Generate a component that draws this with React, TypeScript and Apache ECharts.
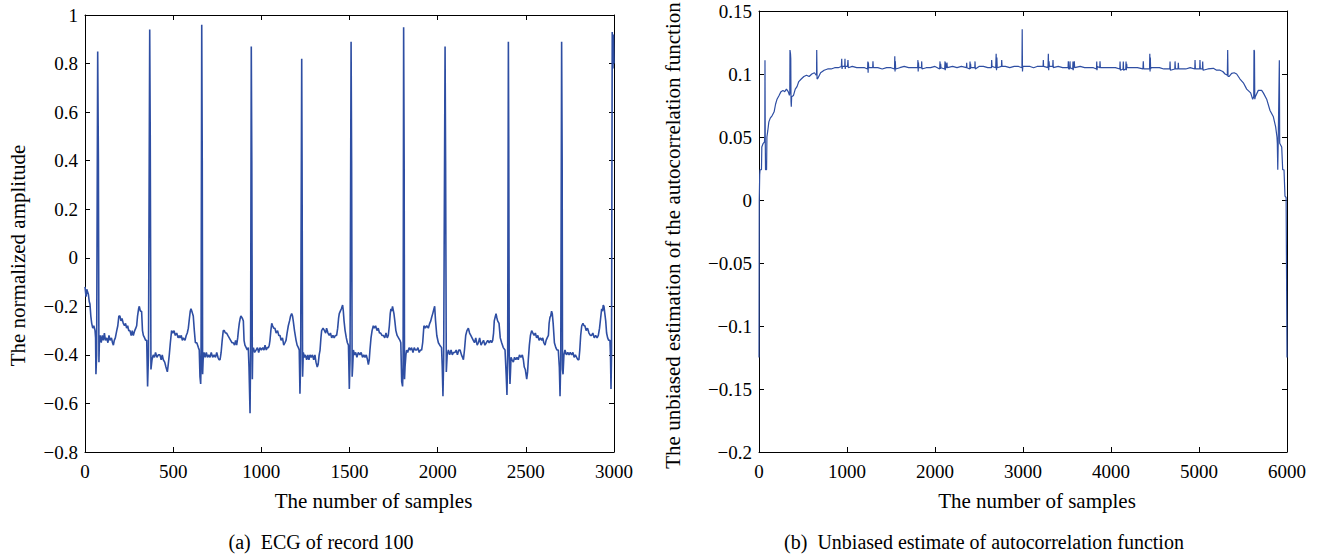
import React, { useEffect, useRef } from "react";
import * as echarts from "echarts";

// ECG of record 100: [sample, normalized amplitude]
const ecgPoints: number[][] = [
  [0,-0.12],[6,-0.16],[10,-0.13],[19,-0.15],[24,-0.18],[28,-0.19],[33,-0.24],[38,-0.27],[44,-0.29],[50,-0.28],[57,-0.30],[60,-0.33],[62,-0.48],[66,-0.40],[72,0.85],[76,0.40],[79,-0.43],[82,-0.33],[86,-0.32],[92,-0.35],[98,-0.32],[104,-0.34],[110,-0.31],[116,-0.34],[123,-0.33],[130,-0.35],[136,-0.32],[142,-0.34],[150,-0.33],[156,-0.35],[161,-0.36],[166,-0.34],[172,-0.33],[180,-0.30],[186,-0.28],[192,-0.24],[198,-0.24],[204,-0.26],[210,-0.25],[217,-0.27],[224,-0.28],[230,-0.27],[236,-0.29],[242,-0.28],[248,-0.30],[255,-0.30],[262,-0.32],[268,-0.30],[274,-0.32],[282,-0.30],[288,-0.29],[293,-0.28],[298,-0.24],[304,-0.21],[308,-0.20],[314,-0.22],[321,-0.22],[326,-0.30],[331,-0.32],[338,-0.33],[344,-0.34],[350,-0.34],[355,-0.53],[360,-0.40],[367,0.94],[370,0.50],[374,-0.46],[380,-0.42],[387,-0.40],
  [394,-0.41],[400,-0.39],[408,-0.41],[416,-0.40],[425,-0.40],[432,-0.42],[438,-0.40],[444,-0.42],[452,-0.43],[459,-0.45],[467,-0.47],[472,-0.44],[478,-0.40],[484,-0.35],[491,-0.30],[498,-0.31],[505,-0.30],[512,-0.32],[520,-0.31],[528,-0.33],[534,-0.32],[539,-0.33],[546,-0.32],[552,-0.34],[558,-0.33],[567,-0.34],[574,-0.32],[580,-0.31],[586,-0.29],[592,-0.25],[597,-0.22],[601,-0.21],[606,-0.22],[610,-0.23],[614,-0.24],[620,-0.30],[626,-0.35],[634,-0.35],[643,-0.37],[648,-0.38],[652,-0.49],[656,-0.52],[658,-0.45],[662,0.96],[665,0.40],[667,-0.48],[670,-0.42],[675,-0.39],[682,-0.41],[688,-0.39],[695,-0.41],[702,-0.40],[709,-0.41],[716,-0.39],[724,-0.41],[732,-0.40],[740,-0.41],[747,-0.39],[754,-0.41],[760,-0.42],[766,-0.42],[772,-0.39],[778,-0.34],[784,-0.30],[790,-0.30],[796,-0.31],[803,-0.31],[810,-0.32],[818,-0.33],[826,-0.34],[834,-0.35],[841,-0.35],[848,-0.36],[854,-0.34],[860,-0.36],[866,-0.33],[870,-0.30],[875,-0.27],[880,-0.25],[884,-0.24],[888,-0.24],[893,-0.25],[898,-0.26],[902,-0.34],[907,-0.36],[914,-0.37],[920,-0.38],[926,-0.37],[930,-0.45],[936,-0.64],[939,-0.40],[943,0.87],[946,0.40],[949,-0.50],[951,-0.38],[955,-0.37],[962,-0.39],[970,-0.38],[978,-0.37],[985,-0.39],[992,-0.37],[1000,-0.38],[1008,-0.37],[1015,-0.38],[1021,-0.36],[1028,-0.38],[1034,-0.37],[1040,-0.37],[1045,-0.36],[1049,-0.34],[1054,-0.30],[1059,-0.27],[1064,-0.28],[1070,-0.29],[1077,-0.29],[1084,-0.31],[1092,-0.30],[1099,-0.32],[1106,-0.32],[1112,-0.34],[1120,-0.33],[1127,-0.36],[1134,-0.35],[1140,-0.34],[1146,-0.31],[1153,-0.28],[1160,-0.26],[1166,-0.24],[1172,-0.23],[1177,-0.24],[1181,-0.26],[1188,-0.30],[1197,-0.34],[1203,-0.36],[1210,-0.37],[1215,-0.38],[1219,-0.56],[1223,-0.42],[1229,0.82],[1231,0.40],[1234,-0.49],[1238,-0.39],[1244,-0.41],[1250,-0.40],[1257,-0.42],[1264,-0.40],[1270,-0.42],[1276,-0.40],[1283,-0.41],[1290,-0.40],[1297,-0.42],[1304,-0.40],[1310,-0.43],[1317,-0.45],[1322,-0.44],[1328,-0.40],[1333,-0.38],[1338,-0.33],[1342,-0.30],[1350,-0.29],[1358,-0.30],[1365,-0.31],[1370,-0.29],[1378,-0.31],[1385,-0.32],[1392,-0.31],[1399,-0.33],[1406,-0.32],[1413,-0.33],[1420,-0.32],[1427,-0.32],[1433,-0.29],[1438,-0.25],[1442,-0.23],[1448,-0.22],[1454,-0.21],[1461,-0.195],[1465,-0.22],[1469,-0.26],[1475,-0.30],[1482,-0.33],[1488,-0.35],[1494,-0.36],[1499,-0.54],[1503,-0.42],[1509,0.89],[1512,0.40],[1515,-0.49],[1518,-0.45],[1522,-0.38],[1528,-0.40],[1535,-0.39],[1542,-0.41],[1550,-0.39],[1559,-0.40],[1566,-0.39],[1574,-0.41],[1581,-0.40],[1588,-0.41],[1595,-0.40],[1602,-0.42],[1607,-0.44],[1612,-0.42],[1616,-0.38],[1622,-0.33],[1628,-0.30],[1635,-0.28],[1641,-0.29],[1648,-0.28],[1656,-0.30],[1663,-0.29],[1670,-0.31],[1677,-0.31],[1684,-0.32],[1692,-0.32],[1700,-0.33],[1707,-0.31],[1714,-0.33],[1720,-0.32],[1726,-0.28],[1731,-0.23],[1735,-0.21],[1739,-0.22],[1744,-0.20],[1748,-0.20],[1752,-0.23],[1757,-0.26],[1763,-0.30],[1770,-0.32],[1778,-0.33],[1786,-0.34],[1791,-0.35],[1796,-0.51],[1801,-0.53],[1804,-0.45],[1807,0.95],[1810,0.40],[1812,-0.50],[1815,-0.45],[1820,-0.40],[1824,-0.38],[1830,-0.39],[1838,-0.37],[1845,-0.38],[1852,-0.37],[1860,-0.39],[1867,-0.37],[1874,-0.38],[1881,-0.38],[1888,-0.37],[1895,-0.39],[1902,-0.38],[1909,-0.38],[1915,-0.35],[1922,-0.28],[1930,-0.29],[1938,-0.28],[1947,-0.29],[1955,-0.27],[1961,-0.26],[1966,-0.245],[1972,-0.23],[1979,-0.21],[1983,-0.20],[1988,-0.26],[1995,-0.32],[2004,-0.35],[2012,-0.36],[2022,-0.37],[2026,-0.45],[2030,-0.57],[2034,-0.42],[2042,0.87],[2045,0.40],[2049,-0.47],[2054,-0.40],[2061,-0.38],[2068,-0.40],[2076,-0.38],[2083,-0.40],[2090,-0.39],[2098,-0.39],[2105,-0.38],[2112,-0.40],[2120,-0.38],[2127,-0.38],[2135,-0.40],[2141,-0.41],[2146,-0.42],[2152,-0.38],[2159,-0.32],[2166,-0.30],[2174,-0.29],[2181,-0.31],[2188,-0.32],[2195,-0.33],[2202,-0.34],[2209,-0.35],[2216,-0.33],[2224,-0.36],[2231,-0.35],[2238,-0.33],[2246,-0.36],[2253,-0.35],[2260,-0.34],[2268,-0.36],[2276,-0.35],[2284,-0.34],[2292,-0.35],[2300,-0.34],[2306,-0.35],[2312,-0.34],[2317,-0.31],[2321,-0.26],[2326,-0.245],[2331,-0.23],[2335,-0.245],[2340,-0.26],[2348,-0.27],[2355,-0.33],[2363,-0.35],[2372,-0.37],[2382,-0.38],[2389,-0.49],[2393,-0.565],[2397,-0.40],[2401,0.89],[2403,0.50],[2406,-0.40],[2410,-0.52],[2413,-0.47],[2416,-0.41],[2422,-0.42],[2429,-0.43],[2436,-0.41],[2443,-0.42],[2450,-0.41],[2457,-0.42],[2464,-0.40],[2472,-0.41],[2480,-0.40],[2486,-0.42],[2491,-0.45],[2497,-0.46],[2505,-0.50],[2510,-0.47],[2514,-0.42],[2520,-0.36],[2526,-0.32],[2533,-0.30],[2540,-0.31],[2547,-0.32],[2554,-0.31],[2561,-0.33],[2568,-0.32],[2575,-0.34],[2582,-0.33],[2590,-0.34],[2596,-0.33],[2602,-0.35],[2609,-0.36],[2615,-0.34],[2621,-0.33],[2628,-0.32],[2632,-0.27],[2637,-0.245],[2641,-0.24],[2646,-0.22],[2650,-0.23],[2655,-0.27],[2662,-0.35],[2670,-0.37],[2677,-0.38],[2684,-0.38],[2690,-0.45],[2694,-0.57],[2698,-0.42],[2703,0.89],[2706,0.40],[2708,-0.46],[2711,-0.48],[2716,-0.40],[2722,-0.38],[2730,-0.40],[2738,-0.39],[2745,-0.40],[2752,-0.39],[2760,-0.40],[2767,-0.39],[2774,-0.41],[2781,-0.40],[2788,-0.41],[2795,-0.42],[2801,-0.42],[2806,-0.38],[2811,-0.32],[2817,-0.28],[2824,-0.27],[2830,-0.28],[2835,-0.28],[2842,-0.30],[2850,-0.29],[2858,-0.31],[2866,-0.32],[2873,-0.32],[2880,-0.31],[2888,-0.33],[2896,-0.32],[2904,-0.33],[2911,-0.32],[2918,-0.29],[2924,-0.25],[2930,-0.21],[2935,-0.22],[2939,-0.195],[2943,-0.20],[2948,-0.23],[2953,-0.26],[2958,-0.31],[2964,-0.33],[2970,-0.34],[2977,-0.34],[2980,-0.40],[2983,-0.54],[2986,-0.40],[2990,0.93],[2994,0.78],[2997,0.92],[3000,0.80]
];

// Unbiased autocorrelation estimate: [lag, value]
const acfPoints: number[][] = [
  [0,-0.125],[3,0.0],[8,0.02],[12,0.024],[28,0.024],[32,0.042],[48,0.045],[62,0.046],[66,0.052],[68,0.111],[71,0.050],[74,0.024],[86,0.024],[90,0.050],[100,0.055],[112,0.062],[128,0.065],[150,0.067],[172,0.070],[188,0.076],[205,0.080],[228,0.083],[250,0.086],[272,0.087],[292,0.086],[312,0.088],[332,0.086],[346,0.083],[350,0.085],[352,0.119],[358,0.116],[361,0.112],[364,0.078],[367,0.074],[371,0.082],[392,0.083],[412,0.088],[432,0.090],[452,0.094],[480,0.096],[510,0.098],[540,0.099],[570,0.098],[600,0.100],[630,0.101],[650,0.099],[654,0.100],[656,0.119],[660,0.096],[672,0.097],[700,0.101],[740,0.103],[780,0.104],[820,0.104],[860,0.105],[900,0.105],[936,0.106],[940,0.112],[944,0.104],[948,0.106],[974,0.106],[977,0.112],[980,0.104],[983,0.106],[1006,0.106],[1011,0.111],[1015,0.105],[1060,0.106],[1110,0.105],[1150,0.105],[1200,0.105],[1234,0.104],[1237,0.110],[1240,0.101],[1243,0.109],[1247,0.105],[1292,0.105],[1295,0.110],[1299,0.105],[1350,0.105],[1400,0.104],[1450,0.105],[1500,0.105],[1540,0.104],[1543,0.114],[1546,0.102],[1549,0.110],[1553,0.104],[1600,0.105],[1650,0.106],[1700,0.105],[1750,0.105],[1803,0.105],[1806,0.111],[1809,0.102],[1812,0.109],[1816,0.105],[1846,0.105],[1849,0.110],[1852,0.104],[1900,0.105],[1950,0.105],[2000,0.106],[2053,0.104],[2057,0.110],[2060,0.104],[2064,0.108],[2068,0.105],[2110,0.104],[2114,0.110],[2117,0.103],[2120,0.109],[2124,0.105],[2133,0.105],[2136,0.109],[2140,0.105],[2200,0.106],[2250,0.105],[2300,0.106],[2357,0.105],[2360,0.109],[2363,0.105],[2395,0.104],[2398,0.110],[2401,0.104],[2404,0.108],[2408,0.105],[2452,0.105],[2455,0.110],[2458,0.104],[2500,0.106],[2550,0.106],[2600,0.105],[2641,0.105],[2644,0.111],[2648,0.106],[2690,0.105],[2695,0.116],[2699,0.103],[2703,0.113],[2707,0.105],[2755,0.106],[2758,0.111],[2762,0.106],[2800,0.106],[2850,0.105],[2900,0.106],[2950,0.106],[2988,0.105],[2991,0.1355],[2994,0.102],[2998,0.106],[3040,0.106],[3080,0.106],[3120,0.105],[3160,0.106],[3200,0.106],[3228,0.106],[3231,0.111],[3234,0.106],[3284,0.105],[3288,0.116],[3292,0.103],[3296,0.110],[3300,0.106],[3338,0.106],[3341,0.111],[3344,0.105],[3400,0.106],[3450,0.105],[3512,0.105],[3515,0.110],[3519,0.104],[3531,0.104],[3534,0.110],[3537,0.105],[3565,0.104],[3568,0.110],[3571,0.103],[3575,0.108],[3580,0.105],[3583,0.110],[3587,0.105],[3650,0.106],[3700,0.105],[3750,0.105],[3800,0.105],[3835,0.104],[3838,0.110],[3841,0.103],[3845,0.106],[3872,0.105],[3875,0.110],[3879,0.105],[3950,0.105],[4000,0.105],[4050,0.105],[4100,0.104],[4103,0.110],[4107,0.103],[4137,0.104],[4140,0.110],[4143,0.103],[4168,0.104],[4171,0.110],[4174,0.103],[4178,0.108],[4182,0.105],[4250,0.105],[4300,0.105],[4363,0.104],[4367,0.110],[4371,0.104],[4438,0.104],[4441,0.116],[4444,0.102],[4447,0.113],[4450,0.104],[4455,0.105],[4500,0.105],[4550,0.105],[4600,0.104],[4668,0.104],[4671,0.110],[4675,0.103],[4725,0.104],[4728,0.110],[4732,0.104],[4762,0.104],[4765,0.109],[4769,0.104],[4850,0.104],[4900,0.105],[4952,0.104],[4955,0.111],[4959,0.104],[5008,0.104],[5011,0.111],[5015,0.104],[5039,0.104],[5042,0.110],[5046,0.103],[5100,0.104],[5163,0.1045],[5200,0.103],[5239,0.103],[5270,0.102],[5296,0.100],[5322,0.099],[5326,0.119],[5330,0.098],[5341,0.098],[5371,0.1005],[5400,0.101],[5428,0.100],[5466,0.096],[5504,0.093],[5542,0.088],[5587,0.085],[5610,0.080],[5622,0.082],[5625,0.119],[5630,0.118],[5634,0.080],[5640,0.082],[5674,0.087],[5712,0.087],[5731,0.085],[5769,0.080],[5807,0.071],[5845,0.066],[5871,0.058],[5886,0.050],[5890,0.045],[5895,0.024],[5900,0.045],[5913,0.111],[5917,0.045],[5925,0.045],[5940,0.042],[5951,0.024],[5966,0.024],[5977,0.003],[5990,0.002],[6000,-0.125]
];

const ecgXRange = [0, 3000, 500];
const ecgYRange = [-0.8, 1, 0.2];
const acfXRange = [0, 6000, 1000];
const acfYRange = [-0.2, 0.15, 0.05];

const xTitle = "The number of samples";
const ecgYTitle = "The normalized amplitude";
const acfYTitle = "The unbiased estimation of the autocorrelation function";
const captionA = "(a)  ECG of record 100";
const captionB = "(b)  Unbiased estimate of autocorrelation function";

const FONT = "'Liberation Serif', 'Times New Roman', serif";
const LINE = "#2e4ea3";

const fmt = (v: number) => String(parseFloat(v.toFixed(3))).replace("-", "\u2212");

function axisPair(
  kind: "x" | "y",
  gridIndex: number,
  range: number[],
  name: string,
  nameGap: number,
  namePadding: number[]
) {
  const [min, max, interval] = range;
  const common = {
    type: "value",
    gridIndex,
    min,
    max,
    interval,
    splitLine: { show: false },
    axisLine: { show: true, onZero: false, lineStyle: { color: "#000", width: 1 } },
    axisTick: { show: true, inside: true, length: 5, lineStyle: { color: "#000", width: 1 } },
  };
  const main = {
    ...common,
    position: kind === "x" ? "bottom" : "left",
    name,
    nameLocation: "middle",
    nameGap,
    nameTextStyle: { fontFamily: FONT, fontSize: 21, color: "#000", padding: namePadding },
    axisLabel: {
      show: true,
      fontFamily: FONT,
      fontSize: 19,
      color: "#000",
      margin: kind === "x" ? 10 : 7,
      formatter: fmt,
    },
  };
  const mirror = {
    ...common,
    position: kind === "x" ? "top" : "right",
    axisLabel: { show: false },
  };
  return [main, mirror];
}

export default function App() {
  const ref = useRef<HTMLDivElement>(null);
  useEffect(() => {
    if (!ref.current) return;
    const chart = echarts.init(ref.current, undefined, { renderer: "svg" });
    const xAxes = [
      ...axisPair("x", 0, ecgXRange, xTitle, 38, [0, 0, 0, 48]),
      ...axisPair("x", 1, acfXRange, xTitle, 38, [0, 0, 0, 28]),
    ];
    const yAxes = [
      ...axisPair("y", 0, ecgYRange, ecgYTitle, 57, [0, 44, 0, 0]),
      ...axisPair("y", 1, acfYRange, acfYTitle, 76, [0, 8, 0, 0]),
    ];
    chart.setOption({
      animation: false,
      backgroundColor: "#fff",
      grid: [
        { left: 85, top: 15, width: 529, height: 437 },
        { left: 759, top: 11, width: 528, height: 441 },
      ],
      xAxis: xAxes,
      yAxis: yAxes,
      series: [
        {
          type: "line",
          xAxisIndex: 0,
          yAxisIndex: 0,
          data: ecgPoints,
          showSymbol: false,
          lineStyle: { color: LINE, width: 1.6 },
          itemStyle: { color: LINE },
        },
        {
          type: "line",
          xAxisIndex: 2,
          yAxisIndex: 2,
          data: acfPoints,
          showSymbol: false,
          lineStyle: { color: LINE, width: 1.2 },
          itemStyle: { color: LINE },
        },
      ],
      graphic: [
        {
          type: "text",
          x: 321,
          y: 542,
          style: { text: captionA, font: `20px ${FONT}`, fill: "#000", align: "center", verticalAlign: "middle" },
        },
        {
          type: "text",
          x: 984,
          y: 542,
          style: { text: captionB, font: `20px ${FONT}`, fill: "#000", align: "center", verticalAlign: "middle" },
        },
      ],
    });
    return () => chart.dispose();
  }, []);
  return (
    <div
      ref={ref}
      style={{ position: "fixed", left: 0, top: 0, width: 1323, height: 556, background: "#fff" }}
    />
  );
}
